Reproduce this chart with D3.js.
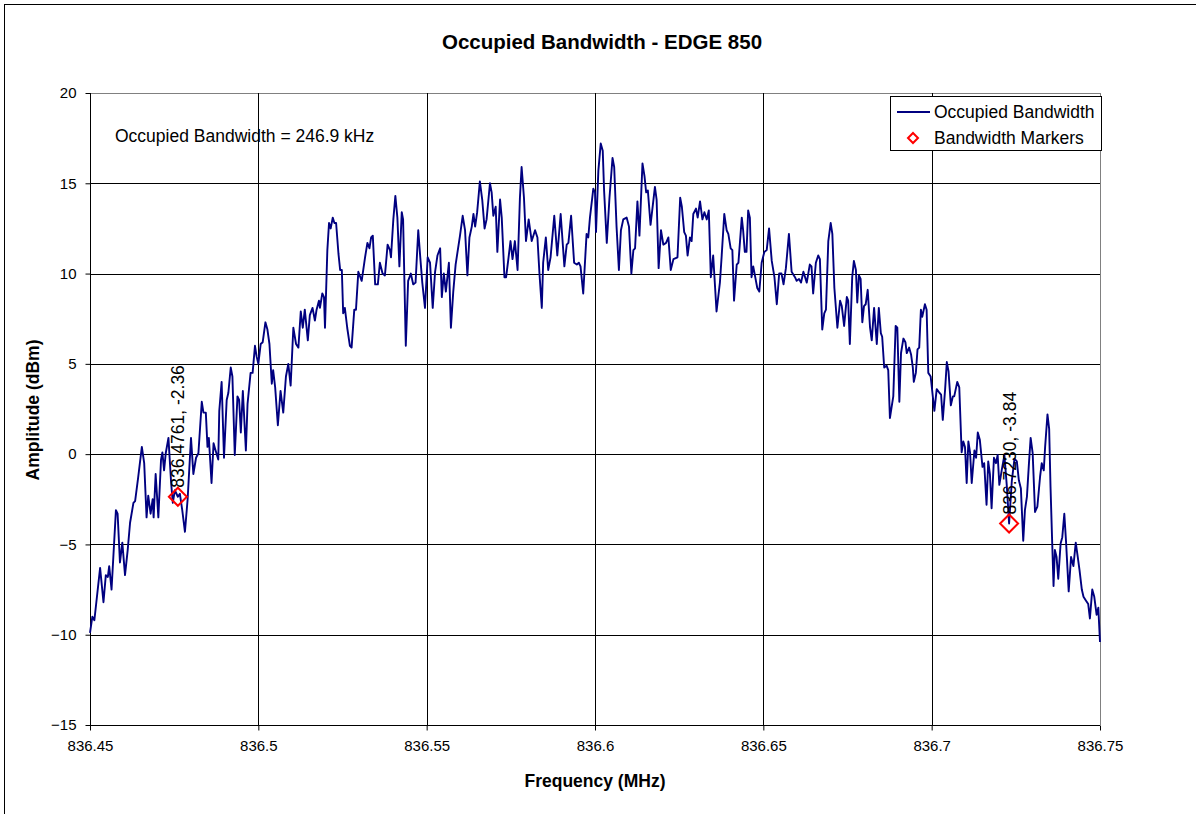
<!DOCTYPE html>
<html><head><meta charset="utf-8">
<script src="https://cdn.jsdelivr.net/npm/d3@7"></script>
<style>body{margin:0;background:#fff}svg{display:block;font-family:Arial,"Liberation Sans",sans-serif}</style>
</head><body><svg id="c" width="1196" height="814"></svg>
<script>
const freq = [
836.4500,836.4507,836.4513,836.4530,836.4540,836.4547,836.4553,836.4557,836.4564,836.4577,
836.4582,836.4589,836.4596,836.4604,836.4612,836.4619,836.4629,836.4634,836.4643,836.4654,
836.4661,836.4668,836.4673,836.4680,836.4686,836.4689,836.4695,836.4703,836.4711,836.4715,
836.4720,836.4725,836.4733,836.4741,836.4746,836.4752,836.4761,836.4767,836.4774,836.4782,
836.4790,836.4800,836.4807,836.4815,836.4822,836.4832,836.4837,836.4844,836.4849,836.4853,
836.4861,836.4867,836.4873,836.4881,836.4884,836.4891,836.4898,836.4906,836.4911,836.4918,
836.4923,836.4930,836.4938,836.4943,836.4948,836.4954,836.4963,836.4968,836.4977,836.4983,
836.4990,836.4995,836.5000,836.5007,836.5013,836.5021,836.5027,836.5033,836.5040,836.5044,
836.5050,836.5058,836.5066,836.5074,836.5082,836.5089,836.5096,836.5104,836.5112,836.5119,
836.5126,836.5132,836.5138,836.5147,836.5153,836.5161,836.5168,836.5173,836.5180,836.5183,
836.5190,836.5195,836.5198,836.5205,836.5210,836.5215,836.5221,836.5226,836.5231,836.5238,
836.5243,836.5248,836.5252,836.5257,
836.5264,836.5272,836.5277,836.5285,836.5290,836.5297,836.5307,836.5317,836.5324,836.5330,
836.5335,836.5340,836.5347,836.5355,836.5361,836.5369,836.5376,836.5384,836.5391,836.5394,
836.5401,836.5407,836.5413,836.5419,836.5426,836.5430,836.5438,836.5445,836.5453,836.5460,
836.5467,836.5475,836.5481,836.5487,836.5495,836.5503,836.5510,836.5518,836.5525,836.5532,
836.5540,836.5545,836.5551,836.5557,836.5566,836.5572,836.5579,836.5586,836.5599,836.5607,
836.5614,
836.5621,836.5627,836.5634,836.5639,836.5644,836.5650,836.5658,836.5665,836.5672,836.5678,
836.5688,836.5693,836.5698,836.5705,836.5710,836.5718,836.5723,836.5731,836.5736,836.5742,
836.5749,836.5755,836.5762,836.5770,836.5777,836.5782,836.5789,836.5795,836.5803,836.5812,
836.5822,836.5829,836.5835,836.5842,836.5846,836.5854,836.5861,836.5868,836.5879,836.5888,
836.5898,836.5909,836.5916,836.5921,836.5929,836.5938,836.5946,836.5952,836.5957,836.5965,
836.5975,836.5980,836.5985,836.5995,836.6000,
836.6003,836.6010,836.6017,836.6023,836.6027,836.6035,836.6043,836.6052,836.6057,836.6064,
836.6071,836.6077,836.6084,836.6094,836.6101,836.6108,836.6114,836.6119,836.6126,836.6132,
836.6141,836.6147,836.6152,836.6157,836.6165,836.6178,836.6183,836.6189,836.6196,836.6203,
836.6211,836.6218,836.6225,836.6233,836.6245,836.6253,836.6258,836.6265,836.6270,836.6275,
836.6282,836.6287,836.6292,836.6300,836.6305,836.6312,836.6319,836.6325,836.6332,836.6338,
836.6344,836.6351,836.6361,836.6371,836.6376,836.6384,836.6391,836.6396,836.6403,836.6408,
836.6413,836.6421,836.6426,836.6436,836.6440,836.6445,836.6450,836.6455,836.6460,836.6465,
836.6470,836.6475,836.6482,836.6488,836.6495,836.6503,836.6510,836.6517,836.6525,836.6533,
836.6540,836.6547,836.6554,836.6560,836.6567,836.6576,836.6584,836.6594,836.6599,836.6606,
836.6612,836.6619,836.6629,836.6638,836.6643,836.6648,836.6656,836.6663,836.6668,836.6675,
836.6681,836.6686,836.6693,836.6700,836.6705,836.6711,836.6720,836.6728,836.6733,836.6740,
836.6748,836.6752,836.6757,
836.6764,836.6769,836.6775,836.6779,836.6784,836.6789,836.6794,836.6799,836.6804,836.6810,
836.6817,836.6822,836.6829,836.6837,836.6843,836.6849,836.6853,836.6859,836.6866,836.6871,
836.6876,836.6881,836.6886,836.6893,836.6898,836.6904,836.6909,836.6916,836.6922,836.6926,
836.6933,836.6939,836.6944,836.6947,836.6953,836.6958,836.6963,836.6968,836.6972,836.6980,
836.6985,836.6990,836.6997,836.7008,836.7015,836.7023,836.7028,836.7033,836.7040,836.7045,
836.7050,836.7057,836.7063,836.7067,836.7076,836.7082,836.7089,836.7094,836.7099,
836.7104,836.7109,836.7114,836.7119,836.7127,836.7132,836.7137,836.7143,836.7151,836.7156,
836.7163,836.7168,836.7173,836.7178,836.7185,836.7191,836.7196,836.7201,836.7208,836.7216,
836.7223,836.7230,836.7238,836.7246,836.7253,836.7259,836.7265,836.7272,836.7277,836.7283,
836.7289,836.7294,836.7300,836.7307,836.7314,836.7322,836.7327,836.7333,836.7337,836.7344,
836.7349,836.7353,836.7358,836.7362,836.7366,836.7371,836.7376,836.7383,836.7388,836.7394,
836.7399,836.7407,836.7414,836.7421,836.7428,836.7434,836.7439,836.7446,836.7451,836.7458,
836.7465,836.7470,836.7477,836.7483,836.7490,836.7495,836.7500
];
const amp = [
-9.9,-9.0,-9.2,-6.3,-8.2,-6.7,-6.8,-6.2,-7.5,-3.1,
-3.3,-6.0,-4.9,-6.7,-5.3,-3.8,-2.7,-2.6,-1.3,0.4,
-0.5,-3.5,-2.3,-3.3,-2.5,-3.5,-1.1,-3.5,-0.3,0.1,
-0.9,0.05,0.9,-1.6,-2.7,-2.0,-2.36,-2.2,-3.1,-4.3,
-2.5,0.9,-1.1,-0.2,0.05,2.9,2.3,2.3,0.4,0.9,
-1.6,0.6,0.2,-0.3,2.4,4.0,-0.2,3.0,3.4,4.8,
4.3,-0.05,3.2,3.0,1.2,3.5,0.2,2.8,4.5,4.5,
6.0,5.4,5.0,6.1,6.2,7.3,6.9,6.1,3.9,4.65,
3.7,1.6,3.5,2.3,4.3,5.0,3.8,7.0,6.1,5.9,
7.9,7.0,8.0,6.3,7.7,8.1,7.4,8.0,8.5,8.1,
8.9,8.7,7.0,11.3,12.8,12.5,13.1,12.8,12.8,11.1,
10.2,10.2,7.8,8.1,
7.0,6.0,5.9,8.0,8.0,10.1,9.6,10.9,11.7,11.4,
12.0,12.1,9.4,9.4,10.6,10.0,9.9,11.6,11.3,10.9,
13.0,14.3,13.1,10.4,13.4,13.0,6.0,9.6,10.0,9.4,
9.5,12.4,10.9,9.5,8.1,10.9,10.6,8.1,10.1,11.0,
11.4,8.7,10.0,9.0,10.6,7.0,9.0,10.5,12.1,13.2,
12.4,
9.9,12.0,12.6,13.3,12.6,13.4,15.1,14.1,12.5,13.0,
15.0,14.5,13.2,13.7,11.2,14.1,13.1,9.8,9.8,10.7,
11.8,10.8,11.8,10.2,14.2,15.9,14.2,11.8,13.0,11.8,
12.4,12.0,10.0,8.1,10.6,12.0,10.2,10.9,13.2,11.0,
13.3,10.4,11.6,11.7,13.2,10.6,10.5,10.6,10.4,8.9,
12.2,12.0,13.1,14.7,14.5,
12.3,15.7,17.2,16.8,14.6,11.7,14.2,16.4,15.9,12.6,
10.2,12.4,13.0,13.1,12.6,10.0,11.3,11.4,14.0,12.1,
16.1,15.4,14.5,14.6,12.7,14.8,14.1,10.3,12.4,11.6,
11.7,12.0,10.2,10.8,10.9,14.2,13.7,12.3,12.1,11.0,
12.0,11.8,13.3,13.6,13.1,14.0,13.0,13.4,13.0,13.5,
9.8,11.0,7.9,9.5,10.9,13.3,12.4,12.2,11.4,11.3,
8.5,10.5,10.6,13.1,12.4,11.2,11.2,13.5,13.1,9.8,
10.4,9.9,9.2,9.0,10.6,11.2,11.3,12.5,10.7,9.8,
8.3,10.0,10.0,9.4,10.3,12.2,10.1,9.8,9.6,9.7,
9.5,10.1,9.5,10.5,10.4,8.9,10.6,11.0,10.8,6.9,
7.8,8.0,11.8,12.8,12.2,9.2,7.0,8.5,8.2,7.1,
8.7,8.5,6.1,
9.8,10.7,10.2,8.4,9.9,9.7,7.3,8.2,8.3,9.1,
7.0,6.3,8.1,6.1,8.1,6.7,6.5,4.8,4.9,4.65,
2.0,2.6,3.2,7.1,7.0,2.9,5.6,6.4,6.2,5.6,
5.9,5.5,4.8,4.0,4.5,5.8,5.9,8.0,7.6,8.3,
8.0,4.5,4.3,2.4,3.6,3.4,3.3,1.9,3.6,5.1,
4.6,2.7,3.2,3.2,4.0,3.7,0.1,0.7,0.4,
-1.6,0.7,0.1,-1.6,0.2,-0.2,1.2,0.8,-0.7,-0.5,
-2.8,-0.4,-1.1,-3.0,-0.2,-0.5,-0.05,-1.7,-0.9,-0.05,
-1.7,-3.84,-1.5,-0.25,-0.4,-1.45,-1.9,-4.8,-3.1,-2.35,
-0.5,0.9,0.05,-3.2,-2.9,-1.25,-0.5,-0.9,0.4,2.2,
1.4,-1.8,-4.9,-7.3,-5.3,-5.7,-6.9,-4.95,-4.6,-3.3,
-4.8,-7.6,-5.7,-6.2,-4.9,-5.7,-6.4,-7.5,-7.9,-8.1,
-8.3,-9.1,-7.5,-7.9,-8.9,-8.5,-10.4
];
const markerFreq = [836.4761, 836.7230];
const markerAmp = [-2.36, -3.84];
const markerLabels = ["836.4761, -2.36", "836.7230, -3.84"];
const xTicks = [836.45, 836.5, 836.55, 836.6, 836.65, 836.7, 836.75];
const xTickLabels = ["836.45", "836.5", "836.55", "836.6", "836.65", "836.7", "836.75"];
const yTicks = [-15, -10, -5, 0, 5, 10, 15, 20];
const titleText = "Occupied Bandwidth - EDGE 850";
const xTitle = "Frequency (MHz)";
const yTitle = "Amplitude (dBm)";
const noteText = "Occupied Bandwidth = 246.9 kHz";
const legendNames = ["Occupied Bandwidth", "Bandwidth Markers"];

const svg = d3.select("#c");
const L = 90, R = 1100, T = 93, B = 725;
const x = d3.scaleLinear().domain([836.45, 836.75]).range([L, R]);
const y = d3.scaleLinear().domain([-15, 20]).range([B, T]);
const px = v => Math.round(v) + 0.5;

// outer frame
svg.append("rect").attr("x", 4.5).attr("y", 4.5).attr("width", 1300).attr("height", 1000)
  .attr("fill", "#fff").attr("stroke", "#000").attr("stroke-width", 1);

// gridlines
const g = svg.append("g");
g.selectAll(".hg").data(yTicks).join("line")
  .attr("x1", L).attr("x2", R).attr("y1", d => px(y(d))).attr("y2", d => px(y(d)))
  .attr("stroke", d => d === 20 ? "#808080" : "#000").attr("stroke-width", 1);
g.selectAll(".vg").data(xTicks).join("line")
  .attr("y1", T).attr("y2", B).attr("x1", d => px(x(d))).attr("x2", d => px(x(d)))
  .attr("stroke", d => d === 836.75 ? "#808080" : "#000").attr("stroke-width", 1);

// axes
const yAxis = d3.axisLeft(y).tickValues(yTicks).tickSize(5).tickPadding(9).tickFormat(d3.format("d"));
const ya = svg.append("g").attr("transform", `translate(${px(L)},0)`).call(yAxis);
const xAxis = d3.axisBottom(x).tickValues(xTicks).tickSize(5).tickPadding(10).tickFormat((d, i) => xTickLabels[i]);
const xa = svg.append("g").attr("transform", `translate(0,${px(B)})`).call(xAxis);
[ya, xa].forEach(a => {
  a.select(".domain").attr("stroke", "#000");
  a.selectAll(".tick line").attr("stroke", "#000");
  a.selectAll(".tick text").attr("font-family", "Arial, 'Liberation Sans', sans-serif")
    .attr("font-size", 15).attr("fill", "#000");
});
ya.select(".domain").attr("d", `M0,${T}V${B}`);
xa.select(".domain").attr("d", `M${L},0H${R}`);

// trace
const pts = freq.map((f, i) => [f, amp[i]]);
svg.append("path").datum(pts)
  .attr("d", d3.line().x(d => x(d[0])).y(d => y(d[1])))
  .attr("fill", "none").attr("stroke", "#000080").attr("stroke-width", 1.9)
  .attr("stroke-linejoin", "round");

// markers
const diamond = (cx, cy, r) => `M${cx},${cy - r}L${cx + r},${cy}L${cx},${cy + r}L${cx - r},${cy}Z`;
markerFreq.forEach((f, i) => {
  const cx = x(f), cy = y(markerAmp[i]);
  svg.append("path").attr("d", diamond(cx, cy, 9)).attr("fill", "none")
    .attr("stroke", "#ff0000").attr("stroke-width", 2);
  svg.append("text").attr("transform", `translate(${cx + 6.5},${cy - 9}) rotate(-90)`)
    .attr("font-size", 17.5).attr("fill", "#000").text(markerLabels[i]);
});

// titles
svg.append("text").attr("x", 602).attr("y", 49).attr("text-anchor", "middle")
  .attr("font-weight", "bold").attr("font-size", 20.5).text(titleText);
svg.append("text").attr("x", 595).attr("y", 787).attr("text-anchor", "middle")
  .attr("font-weight", "bold").attr("font-size", 17.5).text(xTitle);
svg.append("text").attr("transform", "translate(39,410) rotate(-90)").attr("text-anchor", "middle")
  .attr("font-weight", "bold").attr("font-size", 17.5).text(yTitle);
svg.append("text").attr("x", 115).attr("y", 142).attr("font-size", 17.5).text(noteText);

// legend
const lg = svg.append("g");
lg.append("rect").attr("x", 890.5).attr("y", 96.5).attr("width", 211).attr("height", 54)
  .attr("fill", "#fff").attr("stroke", "#000").attr("stroke-width", 1);
lg.append("line").attr("x1", 897).attr("x2", 930).attr("y1", 112).attr("y2", 112)
  .attr("stroke", "#000080").attr("stroke-width", 1.9);
lg.append("text").attr("x", 934).attr("y", 118).attr("font-size", 17.5).text(legendNames[0]);
lg.append("path").attr("d", diamond(913, 138, 5)).attr("fill", "none")
  .attr("stroke", "#ff0000").attr("stroke-width", 2);
lg.append("text").attr("x", 934).attr("y", 144).attr("font-size", 17.5).text(legendNames[1]);
</script>
</body></html>
